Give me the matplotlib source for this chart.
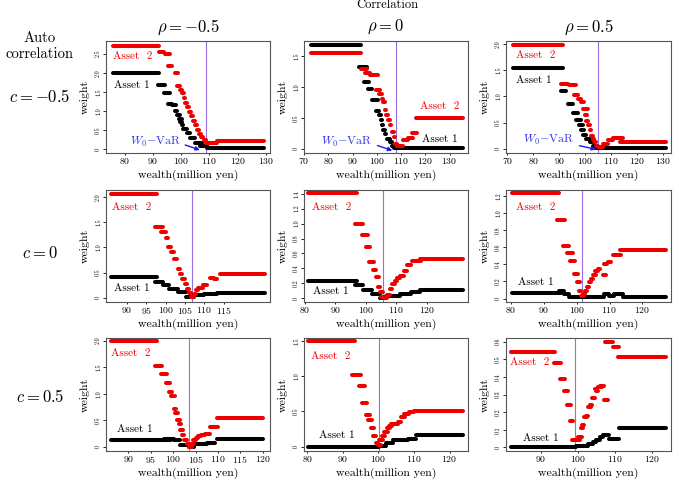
import matplotlib
matplotlib.use("Agg")
import matplotlib.pyplot as plt

plt.rcParams['font.family'] = 'serif'
plt.rcParams['font.serif'] = ['cmr10', 'DejaVu Serif']
plt.rcParams['mathtext.fontset'] = 'cm'
plt.rcParams['axes.formatter.use_mathtext'] = True

# each series: list of (wealth from, wealth to, weight) dashes
# row 1: c = -0.5
asset2_11 = [(75.7, 92.2, 2.71), (92.0, 93.8, 2.55), (94.1, 95.9, 2.48), (95.3, 96.9, 2.17),
             (97.8, 98.9, 1.98), (98.5, 99.4, 1.64), (99.4, 100.2, 1.55), (100.2, 101.0, 1.46),
             (100.9, 101.5, 1.35), (101.4, 102.2, 1.22), (102.1, 102.8, 1.10), (102.8, 103.5, 0.98),
             (103.4, 104.2, 0.86), (104.1, 104.8, 0.74), (104.8, 105.5, 0.62), (105.5, 106.2, 0.51),
             (106.2, 106.9, 0.41), (107.0, 107.8, 0.31), (107.9, 108.7, 0.24), (108.8, 112.5, 0.17),
             (112.8, 129.4, 0.22)]
asset1_11 = [(75.7, 92.2, 1.98), (91.7, 94.4, 1.68), (94.0, 95.9, 1.47), (95.2, 96.6, 1.19),
             (96.9, 98.1, 1.15), (97.9, 98.5, 1.00), (98.5, 99.6, 0.89), (99.2, 100.2, 0.80),
             (99.7, 100.4, 0.72), (100.2, 100.8, 0.63), (100.8, 101.9, 0.52), (101.9, 103.1, 0.42),
             (103.1, 104.8, 0.28), (104.8, 107.2, 0.15), (106.6, 109.0, 0.08), (109.0, 129.4, 0.04)]

asset1_12 = [(72.9, 93.5, 1.68), (92.8, 95.9, 1.32), (94.8, 96.9, 1.07), (96.2, 98.2, 0.96),
             (98.2, 100.3, 0.79), (99.6, 100.9, 0.61), (100.9, 101.6, 0.54), (101.6, 102.0, 0.46),
             (102.0, 102.6, 0.38), (102.6, 103.2, 0.30), (103.2, 103.9, 0.23), (104.1, 105.3, 0.16),
             (105.3, 106.1, 0.11), (106.1, 107.6, 0.05), (107.1, 135.5, 0.01)]
asset2_12 = [(72.9, 93.5, 1.54), (93.5, 95.9, 1.28), (95.2, 97.2, 1.22), (97.2, 100.3, 1.19),
             (99.6, 101.3, 0.95), (100.9, 102.0, 0.88), (102.0, 102.6, 0.81), (102.6, 103.3, 0.76),
             (103.3, 104.0, 0.62), (104.0, 104.6, 0.54), (104.6, 105.3, 0.46), (105.3, 106.0, 0.38),
             (106.1, 106.9, 0.27), (106.9, 107.6, 0.19), (107.6, 108.3, 0.08), (108.3, 111.0, 0.04),
             (111.0, 113.0, 0.14), (113.0, 115.0, 0.17), (114.5, 116.5, 0.25), (116.0, 135.5, 0.50)]

asset2_13 = [(72.1, 91.4, 1.98), (90.7, 93.3, 1.23), (93.6, 96.5, 1.21), (95.9, 97.2, 1.02),
             (97.2, 98.5, 0.96), (98.5, 99.7, 0.89), (99.1, 101.0, 0.76), (100.0, 100.6, 0.65),
             (100.4, 101.0, 0.54), (101.0, 101.7, 0.45), (101.7, 102.3, 0.35), (102.3, 103.0, 0.25),
             (103.0, 103.6, 0.19), (103.6, 104.2, 0.13), (104.2, 104.9, 0.06), (104.9, 106.8, 0.03),
             (106.8, 108.8, 0.10), (108.8, 110.7, 0.16), (110.7, 114.5, 0.21), (113.3, 131.3, 0.13)]
asset1_13 = [(72.1, 91.4, 1.54), (90.7, 92.7, 1.11), (93.3, 95.2, 0.85), (95.2, 97.2, 0.68),
             (96.5, 98.5, 0.55), (97.8, 99.1, 0.45), (98.5, 99.7, 0.35), (99.1, 100.4, 0.27),
             (100.4, 101.7, 0.19), (101.7, 103.0, 0.13), (103.0, 104.2, 0.06), (104.2, 131.3, 0.01)]

# row 2: c = 0
asset2_21 = [(86.0, 97.8, 2.07), (97.3, 99.2, 1.40), (98.8, 100.1, 1.31), (100.1, 100.7, 1.18),
             (100.7, 101.3, 1.01), (101.3, 102.2, 0.91), (102.2, 102.9, 0.78), (103.1, 103.7, 0.58),
             (103.7, 104.3, 0.48), (104.3, 104.9, 0.38), (104.9, 105.4, 0.28), (105.4, 106.0, 0.18),
             (106.0, 106.5, 0.09), (106.5, 107.2, 0.01), (107.2, 107.7, 0.08), (107.7, 108.3, 0.15),
             (108.3, 109.5, 0.20), (109.5, 110.7, 0.25), (111.4, 112.4, 0.40), (112.4, 113.3, 0.37),
             (114.1, 125.5, 0.48)]
asset1_21 = [(86.0, 97.8, 0.41), (97.3, 99.2, 0.31), (99.2, 100.9, 0.25), (100.9, 103.1, 0.18),
             (103.1, 105.2, 0.11), (105.2, 107.2, 0.01), (107.2, 109.9, 0.06), (109.9, 113.3, 0.08),
             (113.3, 125.5, 0.10)]

asset2_22 = [(81.1, 97.2, 1.41), (96.4, 99.1, 0.99), (98.6, 100.8, 0.85), (100.0, 101.5, 0.68),
             (101.1, 102.6, 0.49), (102.4, 103.5, 0.38), (103.3, 104.3, 0.28), (104.0, 104.8, 0.15),
             (104.8, 105.5, 0.08), (105.1, 105.9, 0.02), (105.9, 107.0, 0.01), (107.0, 107.9, 0.05),
             (107.9, 108.7, 0.12), (108.7, 109.5, 0.19), (109.5, 110.3, 0.23), (110.3, 111.1, 0.27),
             (111.1, 112.5, 0.30), (112.5, 113.6, 0.37), (113.6, 115.0, 0.44), (115.3, 118.3, 0.50),
             (117.7, 131.9, 0.53)]
asset1_22 = [(81.1, 97.2, 0.23), (96.4, 99.1, 0.18), (99.1, 101.9, 0.11), (101.9, 104.6, 0.06),
             (104.6, 106.8, 0.01), (106.8, 111.1, 0.03), (111.1, 115.0, 0.06), (115.0, 117.7, 0.08),
             (117.7, 131.9, 0.11)]

asset2_23 = [(80.2, 94.5, 1.23), (94.0, 96.4, 0.92), (95.7, 97.8, 0.62), (97.1, 98.8, 0.53),
             (98.1, 99.5, 0.44), (99.3, 100.3, 0.29), (100.1, 100.9, 0.19), (100.6, 101.3, 0.09),
             (101.3, 102.3, 0.03), (101.8, 102.5, 0.05), (102.5, 103.1, 0.09), (103.1, 103.8, 0.14),
             (103.6, 104.4, 0.19), (104.4, 105.1, 0.23), (105.1, 105.8, 0.27), (105.6, 106.4, 0.32),
             (106.4, 107.2, 0.35), (108.0, 109.0, 0.27), (108.2, 109.2, 0.41), (109.4, 110.4, 0.43),
             (111.0, 113.5, 0.51), (113.3, 127.2, 0.57)]
asset1_23 = [(80.2, 95.2, 0.07), (94.7, 96.2, 0.09), (96.2, 97.8, 0.05), (97.8, 108.4, 0.02),
             (108.4, 109.9, 0.05), (109.9, 111.5, 0.03), (111.5, 114.0, 0.05), (114.0, 127.2, 0.02)]

# row 3: c = 0.5
asset2_31 = [(86.1, 96.4, 1.99), (95.9, 97.6, 1.53), (97.2, 98.7, 1.38), (98.3, 99.3, 1.21),
             (99.0, 99.8, 1.04), (99.6, 100.3, 0.95), (100.1, 100.7, 0.71), (100.5, 101.0, 0.63),
             (100.9, 101.5, 0.51), (101.3, 101.8, 0.42), (101.6, 102.2, 0.32), (102.0, 102.5, 0.23),
             (102.5, 103.0, 0.13), (103.0, 103.5, 0.05), (103.5, 104.2, 0.0), (103.9, 104.6, 0.05),
             (104.4, 105.0, 0.12), (105.0, 105.5, 0.17), (105.5, 106.2, 0.21), (106.2, 107.0, 0.22),
             (107.2, 108.3, 0.24), (108.1, 108.9, 0.38), (108.7, 109.9, 0.38), (109.8, 120.1, 0.55)]
asset1_31 = [(86.1, 96.4, 0.12), (96.4, 99.4, 0.13), (97.9, 100.1, 0.15), (100.1, 101.6, 0.12),
             (101.6, 103.5, 0.04), (103.5, 104.6, 0.0), (104.6, 107.6, 0.05), (107.6, 109.4, 0.08),
             (109.8, 120.1, 0.15)]

asset2_32 = [(80.3, 93.5, 1.50), (92.7, 95.1, 1.02), (94.6, 96.3, 0.86), (95.5, 96.9, 0.62),
             (96.5, 97.6, 0.45), (97.2, 98.2, 0.38), (97.9, 98.8, 0.26), (98.5, 99.3, 0.15),
             (99.3, 100.0, 0.06), (99.8, 100.7, 0.02), (100.2, 101.2, 0.09), (101.0, 101.9, 0.15),
             (101.6, 102.6, 0.21), (102.3, 103.2, 0.26), (103.1, 103.8, 0.29), (103.6, 104.5, 0.32),
             (104.5, 105.4, 0.32), (105.4, 106.4, 0.35), (106.4, 107.6, 0.42), (107.3, 108.7, 0.47),
             (108.7, 110.1, 0.49), (110.1, 123.8, 0.51)]
asset1_32 = [(80.3, 100.2, 0.0), (100.2, 102.1, 0.01), (102.1, 104.0, 0.06), (104.0, 106.4, 0.09),
             (106.4, 108.2, 0.10), (108.2, 110.6, 0.11), (110.6, 123.8, 0.17)]

asset2_33 = [(81.9, 93.8, 0.54), (93.4, 95.4, 0.48), (95.0, 96.5, 0.39), (96.1, 97.4, 0.32),
             (97.0, 98.1, 0.24), (97.9, 98.7, 0.15), (98.5, 99.2, 0.04), (99.2, 100.5, 0.04),
             (100.1, 101.0, 0.06), (100.8, 101.4, 0.11), (101.2, 101.7, 0.13), (101.7, 102.5, 0.17),
             (102.1, 102.8, 0.18), (102.6, 103.6, 0.23), (103.2, 103.9, 0.24), (103.9, 104.6, 0.28),
             (104.5, 105.2, 0.33), (104.9, 105.5, 0.32), (105.5, 106.4, 0.34), (106.1, 107.0, 0.35),
             (107.0, 108.2, 0.27), (107.3, 108.4, 0.60), (108.1, 109.4, 0.60), (109.4, 111.0, 0.57),
             (110.8, 123.9, 0.51)]
asset1_33 = [(81.9, 99.5, 0.0), (99.5, 100.8, 0.01), (100.8, 102.6, 0.01), (102.6, 104.0, 0.02),
             (104.0, 104.9, 0.03), (104.9, 106.1, 0.04), (106.1, 106.7, 0.06), (106.7, 107.6, 0.07),
             (107.3, 108.5, 0.07), (108.5, 111.0, 0.05), (111.0, 123.9, 0.11)]

asset1 = [[asset1_11, asset1_12, asset1_13], [asset1_21, asset1_22, asset1_23], [asset1_31, asset1_32, asset1_33]]
asset2 = [[asset2_11, asset2_12, asset2_13], [asset2_21, asset2_22, asset2_23], [asset2_31, asset2_32, asset2_33]]

# W0 - VaR for each panel
var_line = [[108.7, 107.8, 105.1], [106.7, 105.7, 101.6], [103.5, 100.3, 99.3]]

rho_labels = [r'$\rho = -0.5$', r'$\rho = 0$', r'$\rho = 0.5$']
c_labels = [r'$c = -0.5$', r'$c = 0$', r'$c = 0.5$']

# axis setup (limits, ticks) per panel
xlims = [[(73.4, 131.4), (70.2, 137.6), (69.5, 133.1)],
         [(84.6, 126.9), (79.7, 133.6), (78.5, 128.7)],
         [(85.0, 121.6), (79.1, 125.2), (80.5, 125.2)]]
ylims = [[(-0.10, 2.83), (-0.07, 1.74), (-0.08, 2.06)],
         [(-0.09, 2.15), (-0.05, 1.45), (-0.04, 1.27)],
         [(-0.08, 2.05), (-0.06, 1.54), (-0.02, 0.62)]]
xticks = [[range(80, 131, 10), range(70, 131, 10), range(70, 131, 10)],
          [range(90, 116, 5), range(80, 121, 10), range(80, 121, 10)],
          [range(90, 121, 5), range(80, 121, 10), range(90, 121, 10)]]
yticks = [[[0, 0.5, 1, 1.5, 2, 2.5], [0, 0.5, 1, 1.5], [0, 0.5, 1, 1.5, 2]],
          [[0, 0.5, 1, 1.5, 2], [0, 0.2, 0.4, 0.6, 0.8, 1.0, 1.2, 1.4], [0, 0.2, 0.4, 0.6, 0.8, 1.0, 1.2]],
          [[0, 0.5, 1, 1.5, 2], [0, 0.5, 1, 1.5], [0, 0.1, 0.2, 0.3, 0.4, 0.5, 0.6]]]

# label anchor positions (data coords)
a2_pos = [[(75.7, 2.44), (117.9, 0.69), (73.4, 1.78)],
          [(86.2, 1.80), (82.4, 1.22), (81.5, 1.07)],
          [(86.2, 1.77), (81.2, 1.28), (81.7, 0.48)]]
a1_pos = [[(76.3, 1.66), (118.6, 0.16), (73.4, 1.31)],
          [(86.6, 0.18), (82.7, 0.10), (82.0, 0.19)],
          [(87.5, 0.33), (83.2, 0.17), (85.0, 0.055)]]
var_text = [((81.9, 0.20), (101.4, 0.11), (106.6, -0.02)),
            ((77.2, 0.11), (100.3, 0.05), (106.4, -0.03)),
            ((75.9, 0.16), (97.8, 0.06), (104.2, -0.01))]

W, H = 679, 480
cols = [(106, 270), (304, 468), (506, 671)]
rows = [(41, 153), (190, 302), (338, 451)]

fig = plt.figure(figsize=(W / 100, H / 100), dpi=100)

for r in range(3):
    for c in range(3):
        l, rr = cols[c]
        t, b = rows[r]
        ax = fig.add_axes([l / W, 1 - b / H, (rr - l) / W, (b - t) / H])
        ax.axvline(var_line[r][c], color='#9370db', lw=0.8, zorder=1)
        for segs, col in ((asset1[r][c], 'black'), (asset2[r][c], '#ee0000')):
            x0 = [s[0] for s in segs]
            x1 = [s[1] for s in segs]
            y = [s[2] for s in segs]
            ax.hlines(y, x0, x1, colors=col, linewidth=2.9, capstyle='round', zorder=3)
        ax.set_xlim(xlims[r][c])
        ax.set_ylim(ylims[r][c])
        ax.set_xticks(list(xticks[r][c]))
        yt = yticks[r][c]
        ax.set_yticks(yt)
        ax.set_yticklabels(['0' if v == 0 else f'{v:.1f}' for v in yt],
                           rotation=90, va='center', fontsize=4.3)
        ax.tick_params(axis='x', labelsize=7, length=1.5, width=0.6, pad=0.5)
        ax.tick_params(axis='y', length=2.0, width=0.6, pad=1.5)
        for sp in ax.spines.values():
            sp.set_color('#555555')
            sp.set_linewidth(0.8)
        ax.set_xlabel('wealth(million yen)', fontsize=8.5)
        ax.xaxis.set_label_coords(0.5, -17 / (b - t))
        ax.set_ylabel('weight', fontsize=8.5)
        ax.yaxis.set_label_coords(-16 / (rr - l), 0.5)
        ax.text(*a2_pos[r][c], 'Asset  2', color='#ee0000', fontsize=8, va='center', ha='left')
        ax.text(*a1_pos[r][c], 'Asset 1', color='black', fontsize=8, va='center', ha='left')
        if r == 0:
            (tx, ty), (ax0, ay0), (ax1, ay1) = var_text[c]
            ax.text(tx, ty, r'$W_0\!-\!\mathrm{VaR}$', color='#3333ee', fontsize=8.5, va='center', ha='left')
            ax.annotate('', xy=(ax1, ay1), xytext=(ax0, ay0),
                        arrowprops=dict(arrowstyle='-|>', color='#1a1aee', lw=1.0,
                                        mutation_scale=6, shrinkA=0, shrinkB=0))

for c in range(3):
    l, rr = cols[c]
    fig.text((l + rr) / 2 / W, 1 - 27 / H, rho_labels[c], fontsize=12, ha='center', va='center')

fig.text(387 / W, 1 - 5 / H, 'Correlation', fontsize=9, ha='center', va='center')
fig.text(40 / W, 1 - 46 / H, 'Auto\ncorrelation', fontsize=10.5, ha='center', va='center',
         linespacing=1.2)
row_y = [97, 253, 397]
for r in range(3):
    fig.text(40 / W, 1 - row_y[r] / H, c_labels[r], fontsize=12, ha='center', va='center')

fig.savefig('out.png', dpi=100)
